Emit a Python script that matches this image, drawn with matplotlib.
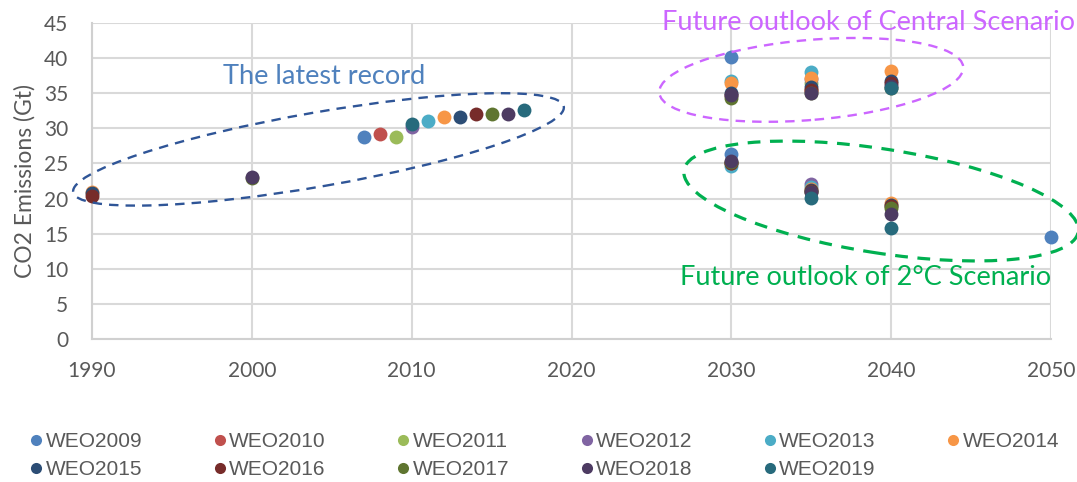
import matplotlib
matplotlib.use("Agg")
import matplotlib.pyplot as plt
import matplotlib.transforms as mtransforms
from matplotlib.patches import Ellipse
from matplotlib.lines import Line2D
import numpy as np

plt.rcParams['font.family'] = ['Lato', 'DejaVu Sans']

# series names and colours (Excel palette)
names = ['WEO2009', 'WEO2010', 'WEO2011', 'WEO2012', 'WEO2013', 'WEO2014',
         'WEO2015', 'WEO2016', 'WEO2017', 'WEO2018', 'WEO2019']
colors = ['#4F81BD', '#C0504D', '#9BBB59', '#8064A2', '#4BACC6', '#F79646',
          '#2C4D75', '#772C2A', '#5F7530', '#4D3B62', '#276A7C']

# years and CO2 emissions (Gt), one pair per report
weo2009_x = [2007, 2030, 2030, 2050]
weo2009_y = [28.8, 40.2, 26.3, 14.5]
weo2010_x = [2008, 2035]
weo2010_y = [29.2, 35.4]
weo2011_x = [2009, 2035]
weo2011_y = [28.8, 36.4]
weo2012_x = [2010, 2035, 2035]
weo2012_y = [30.2, 37.0, 22.1]
weo2013_x = [2011, 2030, 2035, 2030, 2035]
weo2013_y = [31.1, 36.7, 38.0, 24.7, 21.6]
weo2014_x = [1990, 2012, 2030, 2035, 2040, 2030, 2035, 2040]
weo2014_y = [21.0, 31.6, 36.4, 37.1, 38.1, 25.0, 21.3, 19.4]
weo2015_x = [1990, 2013, 2030, 2035, 2040, 2030, 2035, 2040]
weo2015_y = [20.8, 31.6, 35.0, 35.9, 36.7, 25.0, 21.2, 19.1]
weo2016_x = [1990, 2014, 2030, 2035, 2040, 2030, 2035, 2040]
weo2016_y = [20.4, 32.1, 34.8, 35.5, 36.4, 25.1, 21.1, 18.9]
weo2017_x = [2000, 2015, 2030, 2035, 2040, 2030, 2035, 2040]
weo2017_y = [22.9, 32.0, 34.3, 35.0, 35.7, 25.2, 21.0, 18.6]
weo2018_x = [2000, 2016, 2030, 2035, 2040, 2030, 2035, 2040]
weo2018_y = [23.1, 32.0, 34.7, 35.1, 36.0, 25.4, 21.0, 17.8]
weo2019_x = [2010, 2017, 2040, 2035, 2040]
weo2019_y = [30.6, 32.6, 35.8, 20.1, 15.85]

series_x = [weo2009_x, weo2010_x, weo2011_x, weo2012_x, weo2013_x, weo2014_x,
            weo2015_x, weo2016_x, weo2017_x, weo2018_x, weo2019_x]
series_y = [weo2009_y, weo2010_y, weo2011_y, weo2012_y, weo2013_y, weo2014_y,
            weo2015_y, weo2016_y, weo2017_y, weo2018_y, weo2019_y]

fig = plt.figure(figsize=(10.77, 4.82), dpi=100)
ax = fig.add_axes([92 / 1077, 1 - 339 / 482, 959 / 1077, 316 / 482])

for xs, ys, c, n in zip(series_x, series_y, colors, names):
    ax.scatter(xs, ys, s=100, color=c, label=n, zorder=3, linewidths=0,
               clip_on=False)

ax.set_xlim(1990, 2050)
ax.set_ylim(0, 45)
ax.set_xticks(np.arange(1990, 2051, 10))
ax.set_yticks(np.arange(0, 46, 5))
ax.grid(True, color='#D9D9D9', linewidth=1.5, zorder=0)
ax.set_axisbelow(True)
for s in ['top', 'right']:
    ax.spines[s].set_visible(False)
for s in ['left', 'bottom']:
    ax.spines[s].set_color('#D0D0D0')
    ax.spines[s].set_linewidth(1.5)
ax.tick_params(length=0, labelsize=15, labelcolor='#595959')
ax.tick_params(axis='y', pad=17)
ax.tick_params(axis='x', pad=16)
ax.set_ylabel('CO2 Emissions (Gt)', fontsize=16.5, color='#595959',
              labelpad=6)


def ring(x, y, w, h, angle, color, lw):
    # ellipse sized in pixels, centred on a data point
    tr = mtransforms.Affine2D().scale(fig.dpi / 100) + \
        mtransforms.ScaledTranslation(x, y, ax.transData)
    e = Ellipse((0, 0), w, h, angle=angle, transform=tr, fill=False,
                edgecolor=color, linestyle=(0, (4, 3)), linewidth=lw,
                clip_on=False, zorder=4)
    fig.add_artist(e)


ring(2004.17, 27.0, 498, 74, 9.9, '#2F5597', 1.7)
ring(2035.0, 36.9, 305, 80, 4.9, '#CC66FF', 1.7)
ring(2039.37, 19.65, 399, 104, -8.9, '#00B050', 2.3)

ax.text(2004.55, 37.4, 'The latest record', color='#4F81BD', fontsize=19.5,
        ha='center', va='center')
ax.text(2038.56, 45.1, 'Future outlook of Central Scenario', color='#CC66FF',
        fontsize=19.5, ha='center', va='center', clip_on=False)
ax.text(2038.4, 8.8, 'Future outlook of 2°C Scenario', color='#00B050',
        fontsize=19.5, ha='center', va='center')

# legend filled row by row: six across, then five
order = [0, 6, 1, 7, 2, 8, 3, 9, 4, 10, 5]
handles = [Line2D([], [], marker='o', linestyle='none', markersize=8,
                  markerfacecolor=colors[i], markeredgewidth=0) for i in order]
fig.legend(handles, [names[i] for i in order], loc='lower left',
           bbox_to_anchor=(30 / 1077, 3 / 482), ncol=6, frameon=False,
           labelcolor='#595959', handletextpad=0.15, columnspacing=3.42,
           handlelength=0.6, labelspacing=0.42, borderpad=0, borderaxespad=0,
           prop={'family': ['Liberation Sans'], 'size': 15})

fig.savefig('out.png', dpi=100)
